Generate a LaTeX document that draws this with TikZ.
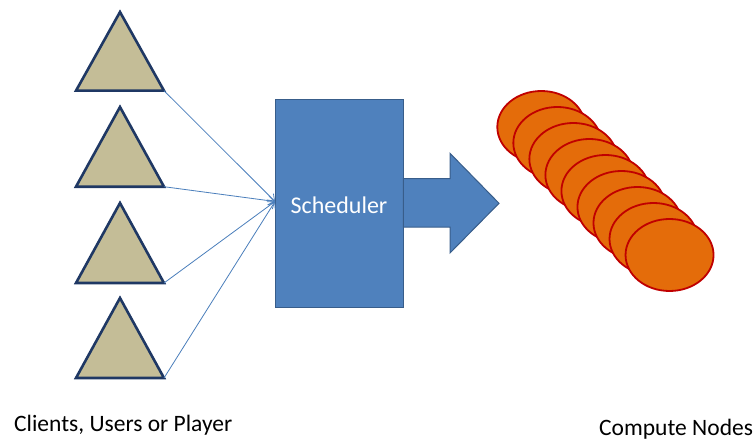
\documentclass[tikz,border=0pt]{standalone}
\usepackage{fontspec}
\setmainfont{Carlito}
\usetikzlibrary{arrows.meta,shapes.geometric}
\definecolor{tanfill}{HTML}{C4BD97}
\definecolor{navyline}{HTML}{1F3864}
\definecolor{boxblue}{HTML}{4F81BD}
\definecolor{boxline}{HTML}{385D8A}
\definecolor{linkblue}{HTML}{4A7EBB}
\definecolor{nodeorange}{HTML}{E46C0A}
\definecolor{nodered}{HTML}{C00000}
\tikzset{
  client/.style={fill=tanfill, draw=navyline, line width=2.6pt, line join=miter},
  link/.style={draw=linkblue, line width=0.8pt, -{Straight Barb[length=6pt,width=9pt]}},
  schedbox/.style={rectangle, fill=boxblue, draw=boxline, line width=1.3pt,
    minimum width=128pt, minimum height=208pt, inner sep=0pt},
  bigarrow/.style={fill=boxblue, draw=boxline, line width=1pt, line join=miter},
  compute/.style={ellipse, fill=nodeorange, draw=nodered, line width=1.8pt,
    minimum width=88pt, minimum height=72pt, inner sep=0pt},
  caption/.style={font=\fontsize{23.5}{28}\selectfont, inner sep=0pt, text=black}
}
\begin{document}
\begin{tikzpicture}[x=1pt,y=-1pt]
\useasboundingbox (0,0) rectangle (755,441);
% clients
\foreach \i/\ya/\yb in {1/12/90.7, 2/107/186.7, 3/203/283, 4/298/378}{
  \draw[client] (120,\ya) -- (164,\yb) -- (76,\yb) -- cycle;
  \coordinate (c\i) at (164,\yb);
}
% scheduler
\node[schedbox] (sched) at (339.2,203.3) {};
\node[text=white, font=\fontsize{24}{28}\selectfont, inner sep=0pt] (schedtext) at (339,205) {Scheduler};
\coordinate (tip) at (275,201.5);
\foreach \i in {1,...,4}{
  \draw[link] (c\i) -- (tip);
}
% block arrow
\draw[bigarrow] (403.3,178.5) -- (450,178.5) -- (450,153.3) -- (499,203.3)
  -- (450,253) -- (450,227) -- (403.3,227) -- cycle;
% compute nodes
\foreach \k in {0,...,8}{
  \node[compute] (n\k) at ({541.3+16.03*\k},{127+16*\k}) {};
}
% captions
\node[caption, anchor=base west] (clab) at (14,431.7) {Clients, Users or Player};
\node[caption, anchor=base west] (nlab) at (599,435.5) {Compute Nodes};
\end{tikzpicture}
\end{document}
